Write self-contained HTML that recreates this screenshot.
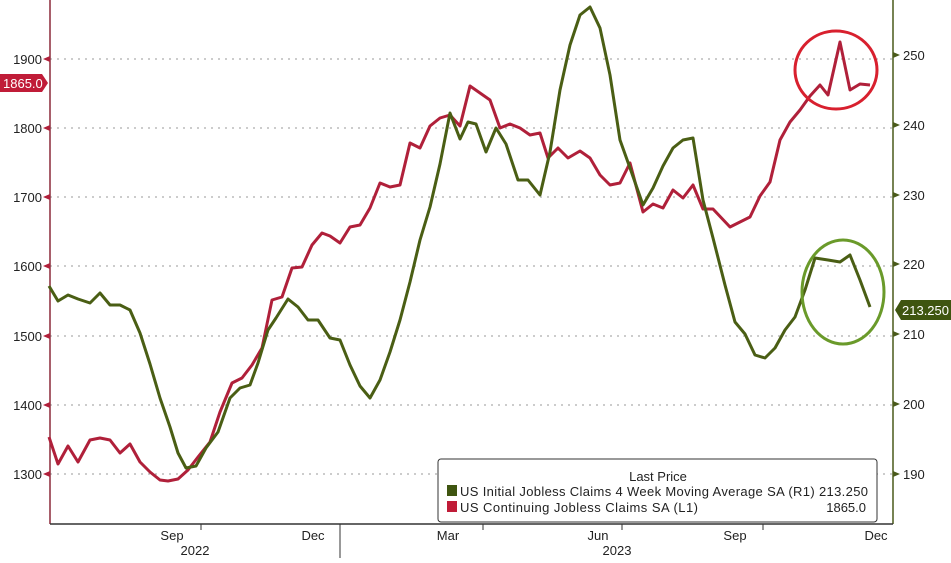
<!DOCTYPE html>
<html><head><meta charset="utf-8"><style>
body{margin:0;background:#fff;}
svg text{font-family:"Liberation Sans",sans-serif;font-size:13px;fill:#222;}
</style></head><body>
<svg width="951" height="558" viewBox="0 0 951 558" xmlns="http://www.w3.org/2000/svg">
<rect width="951" height="558" fill="#fff"/>
<g stroke="#999" stroke-dasharray="2,5" stroke-width="1">
<line x1="50" y1="59" x2="893" y2="59"/><line x1="50" y1="128" x2="893" y2="128"/>
<line x1="50" y1="197" x2="893" y2="197"/><line x1="50" y1="266" x2="893" y2="266"/>
<line x1="50" y1="336" x2="893" y2="336"/><line x1="50" y1="405" x2="893" y2="405"/>
<line x1="50" y1="474" x2="893" y2="474"/>
</g>
<line x1="50" y1="0" x2="50" y2="524" stroke="#8b2a3a" stroke-width="1.5"/>
<line x1="893" y1="0" x2="893" y2="524" stroke="#4a5a1a" stroke-width="1.5"/>
<line x1="50" y1="524" x2="893" y2="524" stroke="#333" stroke-width="1.5"/>
<g fill="#b0203a">
<path d="M43,59 l7,-3 v6z"/><path d="M43,128 l7,-3 v6z"/><path d="M43,197 l7,-3 v6z"/><path d="M43,266 l7,-3 v6z"/><path d="M43,336 l7,-3 v6z"/><path d="M43,405 l7,-3 v6z"/><path d="M43,474 l7,-3 v6z"/>
</g>
<g fill="#4a5a1a">
<path d="M900,55 l-7,-3 v6z"/><path d="M900,125 l-7,-3 v6z"/><path d="M900,195 l-7,-3 v6z"/><path d="M900,264 l-7,-3 v6z"/><path d="M900,334 l-7,-3 v6z"/><path d="M900,404 l-7,-3 v6z"/><path d="M900,474 l-7,-3 v6z"/>
</g>
<g text-anchor="end">
<text x="42" y="64">1900</text><text x="42" y="133">1800</text><text x="42" y="202">1700</text><text x="42" y="271">1600</text><text x="42" y="341">1500</text><text x="42" y="410">1400</text><text x="42" y="479">1300</text>
</g>
<g>
<text x="903" y="60">250</text><text x="903" y="130">240</text><text x="903" y="200">230</text><text x="903" y="269">220</text><text x="903" y="339">210</text><text x="903" y="409">200</text><text x="903" y="479">190</text>
</g>
<g stroke="#333"><line x1="201" y1="524" x2="201" y2="530"/><line x1="340" y1="524" x2="340" y2="558"/><line x1="483" y1="524" x2="483" y2="530"/><line x1="622" y1="524" x2="622" y2="530"/><line x1="763" y1="524" x2="763" y2="530"/></g>
<g text-anchor="middle">
<text x="172" y="540">Sep</text><text x="313" y="540">Dec</text><text x="448" y="540">Mar</text><text x="598" y="540">Jun</text><text x="735" y="540">Sep</text><text x="876" y="540">Dec</text>
<text x="195" y="555">2022</text><text x="617" y="555">2023</text>
</g>
<polyline fill="none" stroke="#b0203a" stroke-width="3" stroke-linejoin="round" points="49,437 58,464 68,446 78,462 90,440 100,438 110,440 120,453 130,444 140,462 150,472 160,480 168,481 178,479 188,470 198,457 210,442 220,412 232,383 242,378 252,365 262,348 272,300 282,297 292,268 302,267 312,245 322,233 330,236 340,243 350,227 360,225 370,208 380,183 390,187 400,185 410,143 420,148 430,126 440,118 450,115 460,126 470,86 480,93 490,100 500,128 510,124 520,128 530,135 540,133 548,158 558,148 568,158 580,151 590,158 600,175 610,185 620,183 630,163 643,212 653,204 663,208 673,190 683,198 693,185 703,209 713,209 730,227 740,222 750,217 760,196 770,182 780,140 790,122 800,110 810,96 820,85 828,95 840,42 850,90 860,84 870,85"/>
<polyline fill="none" stroke="#4a5e14" stroke-width="3" stroke-linejoin="round" points="49,286 58,301 68,295 78,299 90,303 100,293 110,305 120,305 130,310 140,333 150,364 160,398 170,427 178,453 186,468 196,466 206,448 218,432 230,398 240,388 250,385 258,363 268,330 276,318 288,299 298,307 308,320 318,320 330,338 340,340 350,365 360,386 370,398 380,380 390,352 400,320 410,282 420,240 430,207 440,164 450,113 460,139 468,122 476,124 486,152 496,128 506,144 518,180 528,180 540,195 550,152 560,90 570,45 580,15 590,7 600,28 610,75 620,140 630,168 643,205 653,188 663,166 673,148 683,140 693,138 703,200 713,238 725,285 735,322 745,334 755,355 765,358 775,348 785,330 795,317 805,290 815,258 828,260 840,262 850,255 860,280 870,307"/>
<ellipse cx="836" cy="70" rx="41" ry="39" fill="none" stroke="#d8202e" stroke-width="3"/>
<ellipse cx="843" cy="292" rx="41" ry="52" fill="none" stroke="#6a9a2a" stroke-width="3"/>
<path d="M0,74 H42 L48,83 L42,92 H0Z" fill="#c01c38"/>
<text x="3" y="88" style="fill:#fff">1865.0</text>
<path d="M895,310 L901,300 H951 V320 H901Z" fill="#3f5510"/>
<text x="902" y="315" style="fill:#fff">213.250</text>
<rect x="438" y="459" width="439" height="63" rx="3" fill="#fff" stroke="#333"/>
<text x="658" y="481" text-anchor="middle">Last Price</text>
<rect x="447" y="485" width="10" height="11" fill="#3f5510"/>
<text x="460" y="496" textLength="408" lengthAdjust="spacing">US Initial Jobless Claims 4 Week Moving Average SA  (R1) 213.250</text>
<rect x="447" y="501" width="10" height="11" fill="#c01c38"/>
<text x="460" y="512" textLength="238" lengthAdjust="spacing">US Continuing Jobless Claims SA  (L1)</text>
<text x="866" y="512" text-anchor="end">1865.0</text>
</svg>
</body></html>
